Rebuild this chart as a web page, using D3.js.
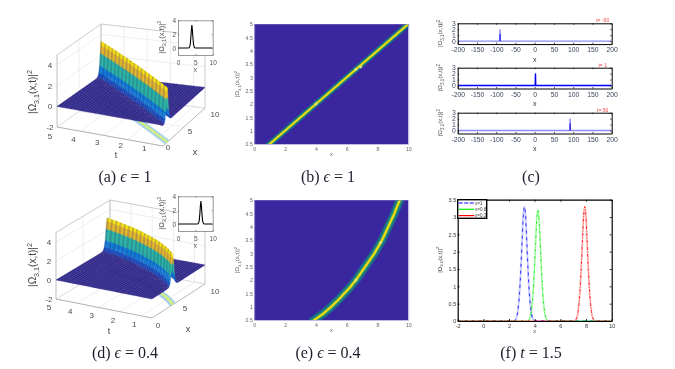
<!DOCTYPE html>
<html><head><meta charset="utf-8">
<script src="https://cdn.jsdelivr.net/npm/d3@7/dist/d3.min.js"></script>
<style>
html,body{margin:0;padding:0;background:#fff}
svg{display:block;filter:blur(0.3px)}
text{font-family:"Liberation Sans",sans-serif}
.cap{font-family:"Liberation Serif",serif;font-size:16px;fill:#1c1c2c;text-anchor:middle}
</style></head><body>
<svg id="c" width="675" height="369"></svg>
<script>
// ---------- data ----------
const tRows=[0.5,0.625,0.75,0.875,1,1.125,1.25,1.375,1.5,1.625,1.75,1.875,2,2.125,2.25,2.375,2.5,2.625,2.75,2.875,3,3.125,3.25,3.375,3.5,3.625,3.75,3.875,4,4.125,4.25,4.375,4.5,4.625,4.75,4.875,5];
const ridgeEps1=[1,1.25,1.5,1.75,2,2.25,2.5,2.75,3,3.25,3.5,3.75,4,4.25,4.5,4.75,5,5.25,5.5,5.75,6,6.25,6.5,6.75,7,7.25,7.5,7.75,8,8.25,8.5,8.75,9,9.25,9.5,9.75,10];
const ridgeEps04=[3.9,4.2,4.5,4.75,5,5.22,5.45,5.65,5.85,6.05,6.25,6.42,6.6,6.75,6.9,7.05,7.2,7.35,7.5,7.65,7.8,7.92,8.05,8.17,8.3,8.4,8.5,8.6,8.7,8.8,8.9,9,9.1,9.18,9.27,9.36,9.45];
const profileOffset=[-1.2,-0.9,-0.7,-0.5,-0.35,-0.2,-0.1,0,0.1,0.2,0.35,0.5,0.7,0.9,1.2];
const profileHeight=[0,0.03,0.1,0.42,1.05,2.2,2.95,3.3,2.95,2.2,1.05,0.42,0.1,0.03,0];
const insetXa=[0,2.8,3.2,3.5,3.7,3.85,4,4.15,4.3,4.5,4.8,5.2,10];
const insetXd=[0,5.4,5.8,6.1,6.3,6.45,6.6,6.75,6.9,7.1,7.4,7.8,10];
const insetY=[0,0,0.03,0.42,1.5,2.6,3.3,2.6,1.5,0.42,0.03,0,0];
const zTicks=[-2,0,2,4];
const tTicks=[1,2,3,4,5];
const xTicks3D=[0,5,10];
const heatXTicks=[0,2,4,6,8,10];
const heatYTicks=[0.5,1,1.5,2,2.5,3,3.5,4,4.5,5];
const kinksB=[[4,2],[6.6,3.3],[6.9,3.4]];
const kinksE=[[6.6,2],[8.2,3.4]];
const stripX=[-200,-150,-100,-50,0,50,100,150,200];
const stripY=[0,1,2,3];
const stripLabels=["t= -50","t= 1","t= 50"];
const stripCentres=[-90,2,92];
const stripPeak=[2,2,2];
const fXTicks=[-2,0,2,4,6,8,10];
const fYTicks=[0,0.5,1,1.5,2,2.5,3,3.5];
const fOffset=[-0.8,-0.65,-0.5,-0.38,-0.28,-0.18,-0.09,0,0.09,0.18,0.28,0.38,0.5,0.65,0.8];
const fShape=[0,0.02,0.1,0.25,0.45,0.7,0.92,1,0.92,0.7,0.45,0.25,0.1,0.02,0];
const fNames=["\u03b5=1","\u03b5=0.8","\u03b5=0.3"];
const fCentres=[3.2,4.25,7.9];
const fPeaks=[3.3,3.2,3.3];
const fColors=["#0000ff","#00ee00","#ff0000"];
const parulaStops=["#352a87","#0363e1","#1485d4","#06a7c6","#2fb8a0","#86c05c","#e0b62e","#fcc81e","#f9fb0e"];
const contourColors=["#a9c8f2","#7fd6dc","#d8e86a"];

// ---------- helpers ----------
const svg=d3.select("#c");
const parula=d3.scaleLinear().domain(parulaStops.map((_,i)=>i/(parulaStops.length-1)*3.3)).range(parulaStops).clamp(true);
const contour=d3.scaleThreshold().domain([0.9,2]).range(contourColors);
let clipId=0;
function yLabel(g,x,y,size,fill){
  const t=g.append("text").attr("transform",`translate(${x},${y}) rotate(-90)`).attr("text-anchor","middle").attr("font-size",size).attr("fill",fill);
  t.append("tspan").text("|\u03a9");
  t.append("tspan").attr("font-size",size*0.72).attr("dy",size*0.28).text("3,1");
  t.append("tspan").attr("dy",-size*0.28).text("(x,t)|");
  t.append("tspan").attr("font-size",size*0.72).attr("dy",-size*0.38).text("2");
}
function frame(o){
  const g=svg.append("g").attr("transform",`translate(${o.x},${o.y})`);
  const sx=d3.scaleLinear().domain(o.xDom).range([0,o.w]);
  const sy=d3.scaleLinear().domain(o.yDom).range([o.h,0]);
  const style=(a)=>{a.selectAll("path").attr("stroke",o.axis).attr("stroke-width",o.sw);
    a.selectAll("line").attr("stroke",o.axis).attr("stroke-width",o.tw||o.sw);
    a.selectAll("text").attr("fill",o.text).attr("font-size",o.fs).attr("font-family","Liberation Sans");};
  const L=o.tick;
  style(g.append("g").attr("transform",`translate(0,${o.h})`).call(d3.axisBottom(sx).tickValues(o.xTicks).tickFormat(d=>d).tickSizeInner(-L).tickSizeOuter(0).tickPadding(o.padX)));
  style(g.append("g").call(d3.axisLeft(sy).tickValues(o.yTicks).tickFormat(d=>d).tickSizeInner(-L).tickSizeOuter(0).tickPadding(o.padY)));
  style(g.append("g").call(d3.axisTop(sx).tickValues(o.xTicks).tickFormat("").tickSizeInner(-L).tickSizeOuter(0)));
  style(g.append("g").attr("transform",`translate(${o.w},0)`).call(d3.axisRight(sy).tickValues(o.yTicks).tickFormat("").tickSizeInner(-L).tickSizeOuter(0)));
  const id="clip"+(clipId++);
  g.append("clipPath").attr("id",id).append("rect").attr("width",o.w).attr("height",o.h);
  const plot=g.insert("g",":first-child").attr("clip-path",`url(#${id})`);
  return {g,sx,sy,plot};
}

function projector(c,zPx){
  const u=d3.scaleLinear().domain([5,0.5]).range([0,1]);
  const v=d3.scaleLinear().domain([0,10]).range([0,1]);
  const z=d3.scaleLinear().domain([-2,5]).range([0,zPx]);
  return (t,x,h)=>{const a=u(t),b=v(x);
    const px=(1-a)*(1-b)*c.left[0]+a*(1-b)*c.front[0]+a*b*c.right[0]+(1-a)*b*c.back[0];
    const py=(1-a)*(1-b)*c.left[1]+a*(1-b)*c.front[1]+a*b*c.right[1]+(1-a)*b*c.back[1];
    return [px,py-z(h)];};
}

function surface(o){
  const P=projector(o.corners,o.zPx), g=svg.append("g");
  const seg=(a,b,col,w)=>g.append("line").attr("x1",a[0]).attr("y1",a[1]).attr("x2",b[0]).attr("y2",b[1]).attr("stroke",col).attr("stroke-width",w||0.7);
  const grid="#e6e6e6", edge="#b4b4b4";
  zTicks.forEach(z=>{seg(P(5,0,z),P(5,10,z),grid);seg(P(5,10,z),P(0.5,10,z),grid);});
  tTicks.forEach(t=>{seg(P(t,0,-2),P(t,10,-2),grid);seg(P(t,10,-2),P(t,10,5),grid);});
  xTicks3D.forEach(x=>{seg(P(0.5,x,-2),P(5,x,-2),grid);seg(P(5,x,-2),P(5,x,5),grid);});
  seg(P(5,0,5),P(5,10,5),edge);seg(P(5,10,5),P(0.5,10,5),edge);
  seg(P(5,10,-2),P(5,10,5),edge);seg(P(0.5,10,-2),P(0.5,10,5),edge);
  seg(P(5,0,-2),P(5,0,5),edge);
  seg(P(5,10,-2),P(5,0,-2),"#dcdcdc");seg(P(5,10,-2),P(0.5,10,-2),"#dcdcdc");
  seg(P(5,0,-2),P(0.5,0,-2),"#999");seg(P(0.5,0,-2),P(0.5,10,-2),"#999");
  const clampX=d3.scaleLinear().domain([0,10]).range([0,10]).clamp(true);
  const rows=tRows.map((t,i)=>{
    const xs=[0].concat(profileOffset.map(d=>clampX(o.ridge[i]+d)),[10]);
    const hs=[0].concat(profileHeight,[0]);
    return {t,xs,hs};
  });
  const quads=[];
  for(let i=rows.length-2;i>=0;i--){
    for(let j=rows[i].xs.length-2;j>=0;j--){
      const a=rows[i],b=rows[i+1];
      quads.push({i,j,h:(a.hs[j]+a.hs[j+1])/2,
        c:[[a.t,a.xs[j],a.hs[j]],[a.t,a.xs[j+1],a.hs[j+1]],[b.t,b.xs[j+1],b.hs[j+1]],[b.t,b.xs[j],b.hs[j]]]});
    }
  }
  const line=d3.line();
  g.append("g").selectAll("path").data(quads.filter(q=>q.h>0.5)).join("path")
    .attr("d",q=>line(q.c.map(p=>P(p[0],p[1],-2)))+"Z")
    .attr("fill",q=>contour(q.h)).attr("stroke",q=>contour(q.h)).attr("stroke-width",0.2);
  const shade=q=>{const base=parula(q.h);
    if(q.h<0.05) return q.i%2?"#2f2a84":"#352a90";
    return q.i%2?d3.interpolateRgb(base,"#26257e")(0.25):base;};
  g.append("g").selectAll("path").data(quads).join("path")
    .attr("d",q=>line(q.c.map(p=>P(p[0],p[1],p[2])))+"Z")
    .attr("fill",shade).attr("stroke",shade).attr("stroke-width",0.35);
  const lab=(p,dx,dy,s)=>g.append("text").attr("x",p[0]+dx).attr("y",p[1]+dy).attr("text-anchor","middle").attr("font-size",8).attr("fill","#4a4a4a").text(s);
  zTicks.forEach(z=>lab(P(5,0,z),-7,3,z));
  const tDy=d3.scaleLinear().domain([1,5]).range(o.tDy);
  tTicks.forEach(t=>lab(P(t,0,-2),-7,tDy(t),t));
  xTicks3D.forEach((x,i)=>lab(P(0.5,x,-2),o.xDx[i],o.xDy[i],x));
  g.append("text").attr("x",o.tLab[0]).attr("y",o.tLab[1]).attr("text-anchor","middle").attr("font-size",9).attr("fill","#444").text("t");
  g.append("text").attr("x",o.xLab[0]).attr("y",o.xLab[1]).attr("text-anchor","middle").attr("font-size",9).attr("fill","#444").text("x");
  yLabel(g,o.yLab[0],o.yLab[1],10,"#444");
  const f=frame({x:o.inset[0],y:o.inset[1],w:34.7,h:34.7,xDom:[0,10],yDom:[-1,4],xTicks:[0,5,10],yTicks:[0,2,4],axis:"#555",sw:0.6,text:"#555",fs:6.5,tick:1.2,padX:4.9,padY:2});
  f.g.insert("rect",":first-child").attr("width",34.7).attr("height",34.7).attr("fill","#fff");
  f.plot.append("path").attr("d",d3.line().x((d,i)=>f.sx(o.insetX[i])).y(d=>f.sy(d))(insetY)).attr("fill","none").attr("stroke","#000").attr("stroke-width",1.1);
  f.g.append("text").attr("x",17.3).attr("y",52).attr("text-anchor","middle").attr("font-size",6.5).attr("fill","#555").text("x");
  yLabel(f.g,-14,17,7.5,"#555");
}

surface({corners:{left:[57,127],front:[163,146],right:[205,108],back:[101,96]},zPx:72,ridge:ridgeEps1,
  tDy:[7,12],xDx:[5,6,10],xDy:[4,7,9],tLab:[116,158],xLab:[195,155],yLab:[36,92],inset:[178,20.3],insetX:insetXa});
surface({corners:{left:[56,299],front:[152,318],right:[205,284],back:[110,266.5]},zPx:66.5,ridge:ridgeEps04,
  tDy:[11,11],xDx:[6,6.5,10],xDy:[10,10,10],tLab:[109,334],xLab:[188,332],yLab:[36,265],inset:[178,196.3],insetX:insetXd});

function heat(y,h,ridge,kinks,widths){
  const f=frame({x:254.3,y,w:154,h,xDom:[0,10],yDom:[0.5,5],xTicks:heatXTicks,yTicks:heatYTicks,axis:"#7878c8",sw:0.5,text:"#666",fs:5.2,tick:0,padX:3,padY:1.5});
  f.plot.append("rect").attr("width",154).attr("height",h).attr("fill","#3a279f");
  const ln=d3.line().x(d=>f.sx(d)).y((d,i)=>f.sy(tRows[i])).curve(d3.curveCatmullRom);
  [["#1a6a88",widths[0]],["#2f9470",widths[1]],["#f0dc10",widths[2]]].forEach(([c,w])=>{
    f.plot.append("path").attr("d",ln(ridge)).attr("fill","none").attr("stroke",c).attr("stroke-width",w).attr("stroke-linecap","square");
  });
  f.plot.selectAll("circle.k").data(kinks).join("circle").attr("cx",d=>f.sx(d[0])).attr("cy",d=>f.sy(d[1])).attr("r",1.5).attr("fill","#e4e27a");
  f.g.append("text").attr("x",77).attr("y",h+12).attr("text-anchor","middle").attr("font-size",5.5).attr("fill","#666").text("x");
  yLabel(f.g,-15,h/2,6,"#666");
}
heat(24,120,ridgeEps1,kinksB,[6,3.4,2]);
heat(200,120,ridgeEps04,kinksE,[8.5,4.8,2.2]);

[23.3,67.7,112.7].forEach((y,k)=>{
  const f=frame({x:457.7,y,w:154,h:20.8,xDom:[-200,200],yDom:[-0.5,3],xTicks:stripX,yTicks:stripY,axis:"#000",sw:1,tw:0.7,text:"#3c4660",fs:6.8,tick:1.5,padX:3.5,padY:2});
  const light=k!==1;
  const ln=d3.line().x(d=>f.sx(d[0])).y(d=>f.sy(d[1]));
  const c=stripCentres[k],p=stripPeak[k];
  const pts=[[-200,0],[c-0.8,0],[c,p],[c+0.8,0],[200,0]];
  f.plot.append("path").attr("d",ln(pts)).attr("fill","none").attr("stroke",light?"#8c8cff":"#0000ff").attr("stroke-width",1.4);
  f.plot.append("line").attr("x1",f.sx(c)).attr("x2",f.sx(c)).attr("y1",f.sy(0)).attr("y2",f.sy(p*(light?0.6:1))).attr("stroke","#0000e0").attr("stroke-width",1);
  f.g.append("text").attr("x",145).attr("y",-1).attr("text-anchor","middle").attr("font-size",5).attr("fill","#f04848").text(stripLabels[k]);
  f.g.append("text").attr("x",77).attr("y",38.5).attr("text-anchor","middle").attr("font-size",7).attr("fill","#333").text("x");
  yLabel(f.g,-15.5,10,6.2,"#555");
});

(function(){
  const f=frame({x:457.7,y:199.7,w:154,h:121.3,xDom:[-2,10],yDom:[0,3.5],xTicks:fXTicks,yTicks:fYTicks,axis:"#000",sw:1.2,tw:0.8,text:"#333",fs:5.5,tick:2,padX:3,padY:1.5});
  fCentres.forEach((c,k)=>{
    const data=[[-2,0]].concat(fOffset.map((d,i)=>[c+d,fShape[i]*fPeaks[k]]),[[10,0]]);
    const ln=d3.line().x(d=>f.sx(d[0])).y(d=>f.sy(d[1])).curve(d3.curveMonotoneX);
    f.plot.append("path").attr("d",ln(data)).attr("fill","none").attr("stroke",fColors[k]).attr("stroke-opacity",0.2).attr("stroke-width",2);
    f.plot.append("path").attr("d",ln(data)).attr("fill","none").attr("stroke",fColors[k]).attr("stroke-width",0.8).attr("stroke-dasharray",k===0?"3 4":"3 1.5 1 1.5");
  });
  const lg=f.g.append("g");
  lg.append("rect").attr("width",29).attr("height",18.6).attr("fill","#fff").attr("stroke","#000").attr("stroke-width",1.4);
  fNames.forEach((n,i)=>{
    const y=3.3+i*6.3;
    lg.append("line").attr("x1",1).attr("x2",16.5).attr("y1",y).attr("y2",y).attr("stroke",fColors[i]).attr("stroke-width",1.2).attr("stroke-dasharray",i===0?"4 1.5":null);
    lg.append("text").attr("x",17.5).attr("y",y+1.8).attr("font-size",4.6).attr("fill","#444").text(n);
  });
  f.g.append("text").attr("x",77).attr("y",133).attr("text-anchor","middle").attr("font-size",5.5).attr("fill","#444").text("x");
  yLabel(f.g,-16,60,6,"#444");
})();

const caps=[[125,182,"(a) ","\u03f5"," = 1"],[328,182,"(b) ","\u03f5"," = 1"],[531,182,"(c)","",""],[125,358,"(d) ","\u03f5"," = 0.4"],[328,358,"(e) ","\u03f5"," = 0.4"],[531,358,"(f) ","t"," = 1.5"]];
caps.forEach(c=>{
  const t=svg.append("text").attr("class","cap").attr("x",c[0]).attr("y",c[1]);
  t.append("tspan").text(c[2]);
  if(c[3]) t.append("tspan").attr("font-style","italic").text(c[3]);
  if(c[4]) t.append("tspan").text(c[4]);
});
</script></body></html>
